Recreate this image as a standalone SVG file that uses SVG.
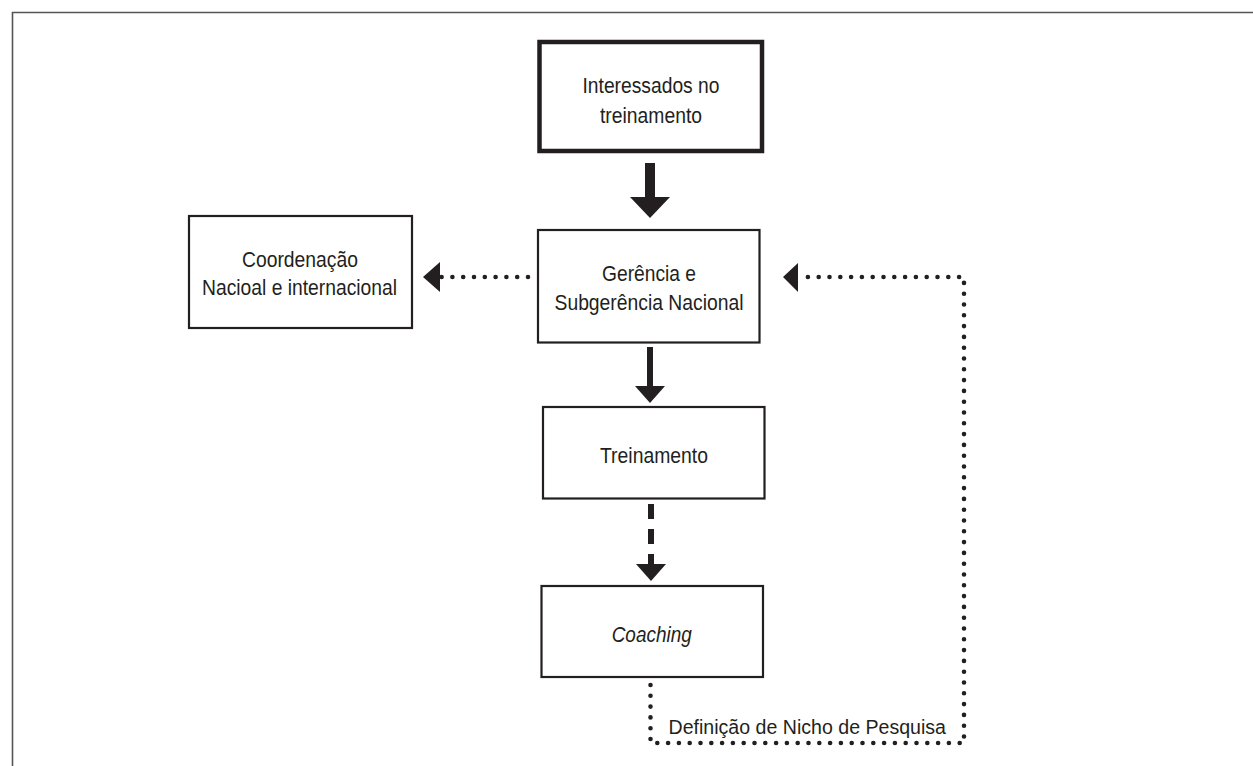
<svg xmlns="http://www.w3.org/2000/svg" width="1253" height="766" viewBox="0 0 1253 766">
<style>
.bg{fill:#ffffff}
.frame{stroke:#555555;stroke-width:1.6;fill:none}
.box{fill:#ffffff;stroke:#231f20;stroke-width:2.2}
.box-thick{fill:#ffffff;stroke:#231f20;stroke-width:4.5}
.t{font-family:"Liberation Sans",Arial,Helvetica,sans-serif;font-size:22px;fill:#231f20}
.ti{font-style:italic}
.dot{stroke:#231f20;stroke-width:4.6;stroke-linecap:round;stroke-dasharray:0 10.8;fill:none}
.dash{stroke:#231f20;stroke-width:6;stroke-dasharray:15 10;fill:none}
.head{fill:#231f20}
</style>
<rect class="bg" x="0" y="0" width="1253" height="766"/>
<g id="frame">
<path class="frame" d="M12.5,766 V12.5 H1253"/>
</g>
<g id="connectors">
<rect class="head" x="645" y="163" width="10" height="35"/>
<polygon class="head" points="630,197 670,197 650,218"/>
<path class="dot" d="M528,277 H441"/>
<polygon class="head" points="423,277 440,262 440,292"/>
<rect class="head" x="647" y="347" width="6" height="40"/>
<polygon class="head" points="635,386 665,386 650,403"/>
<path class="dash" d="M651,504 V567"/>
<polygon class="head" points="636,564 666,564 651,581"/>
<path class="dot" d="M650.5,685 V743 H964 V277 H800"/>
<polygon class="head" points="783,277 798,263 798,292"/>
</g>
<g id="node-interessados">
<rect class="box-thick" x="539.5" y="42" width="222.5" height="109"/>
<text class="t" x="651" y="93" text-anchor="middle" textLength="137" lengthAdjust="spacingAndGlyphs">Interessados no</text>
<text class="t" x="651" y="123" text-anchor="middle" textLength="102" lengthAdjust="spacingAndGlyphs">treinamento</text>
</g>
<g id="node-coordenacao">
<rect class="box" x="189" y="216" width="223" height="112"/>
<text class="t" x="300" y="266.5" text-anchor="middle" textLength="116" lengthAdjust="spacingAndGlyphs">Coordenação</text>
<text class="t" x="299.5" y="295" text-anchor="middle" textLength="195" lengthAdjust="spacingAndGlyphs">Nacioal e internacional</text>
</g>
<g id="node-gerencia">
<rect class="box" x="538" y="230" width="221.5" height="112.5"/>
<text class="t" x="649" y="280.5" text-anchor="middle" textLength="94" lengthAdjust="spacingAndGlyphs">Gerência e</text>
<text class="t" x="649" y="309.5" text-anchor="middle" textLength="189" lengthAdjust="spacingAndGlyphs">Subgerência Nacional</text>
</g>
<g id="node-treinamento">
<rect class="box" x="543" y="407" width="221.5" height="91.5"/>
<text class="t" x="654" y="462.5" text-anchor="middle" textLength="108" lengthAdjust="spacingAndGlyphs">Treinamento</text>
</g>
<g id="node-coaching">
<rect class="box" x="541.5" y="586" width="221.5" height="91"/>
<text class="t ti" x="651.7" y="641.5" text-anchor="middle" textLength="80" lengthAdjust="spacingAndGlyphs">Coaching</text>
</g>
<g id="label-definicao">
<text class="t" x="668.5" y="734" style="font-size:20px" textLength="277.5" lengthAdjust="spacingAndGlyphs">Definição de Nicho de Pesquisa</text>
</g>
</svg>
